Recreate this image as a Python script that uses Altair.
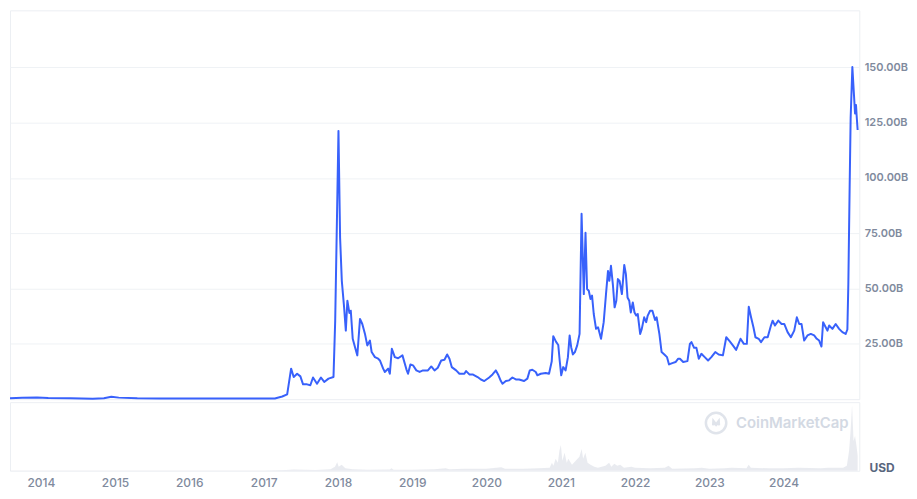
import altair as alt
import pandas as pd
import numpy as np

# ---- data (decimal years, market cap in billions USD) ----
LINE_T = [2013.585, 2013.75, 2013.95, 2014.10, 2014.40, 2014.70, 2014.85, 2014.95, 2015.05, 2015.30,
          2015.60, 2016.00, 2016.50, 2016.80, 2017.00, 2017.15, 2017.25, 2017.316,
          2017.369, 2017.404, 2017.450, 2017.494, 2017.530, 2017.584, 2017.628, 2017.664, 2017.718,
          2017.771, 2017.815, 2017.873, 2017.940, 2017.963, 2018.007, 2018.029, 2018.052, 2018.083,
          2018.106, 2018.127, 2018.154, 2018.173, 2018.199, 2018.230, 2018.261, 2018.297, 2018.328,
          2018.364, 2018.395, 2018.431, 2018.454, 2018.498, 2018.542, 2018.565, 2018.609, 2018.632,
          2018.676, 2018.699, 2018.726, 2018.766, 2018.810, 2018.869, 2018.922, 2018.944, 2018.976,
          2019.011, 2019.056, 2019.100, 2019.145, 2019.212, 2019.257, 2019.301, 2019.345, 2019.391,
          2019.435, 2019.471, 2019.502, 2019.533, 2019.592, 2019.636, 2019.703, 2019.726, 2019.770,
          2019.814, 2019.881, 2019.926, 2019.971, 2020.037, 2020.082, 2020.127, 2020.162, 2020.194,
          2020.216, 2020.261, 2020.305, 2020.349, 2020.395, 2020.439, 2020.506, 2020.550, 2020.582,
          2020.617, 2020.663, 2020.684, 2020.730, 2020.797, 2020.841, 2020.877, 2020.898, 2020.934,
          2020.965, 2020.984, 2021.005, 2021.032, 2021.064, 2021.095, 2021.118, 2021.139, 2021.162,
          2021.189, 2021.220, 2021.252, 2021.279, 2021.309, 2021.332, 2021.353, 2021.376, 2021.399,
          2021.420, 2021.443, 2021.474, 2021.501, 2021.541, 2021.577, 2021.608, 2021.635, 2021.653,
          2021.675, 2021.702, 2021.724, 2021.747, 2021.768, 2021.791, 2021.822, 2021.854, 2021.876,
          2021.898, 2021.921, 2021.942, 2021.969, 2021.992, 2022.015, 2022.036, 2022.068, 2022.090,
          2022.122, 2022.149, 2022.170, 2022.202, 2022.233, 2022.269, 2022.290, 2022.327, 2022.357,
          2022.394, 2022.430, 2022.457, 2022.501, 2022.545, 2022.581, 2022.604, 2022.648, 2022.705,
          2022.738, 2022.759, 2022.795, 2022.826, 2022.858, 2022.893, 2022.938, 2022.983, 2023.027,
          2023.080, 2023.126, 2023.183, 2023.228, 2023.273, 2023.317, 2023.361, 2023.420, 2023.465,
          2023.505, 2023.531, 2023.562, 2023.594, 2023.621, 2023.665, 2023.696, 2023.742, 2023.786,
          2023.830, 2023.853, 2023.884, 2023.929, 2023.973, 2024.009, 2024.054, 2024.098, 2024.143,
          2024.178, 2024.210, 2024.241, 2024.277, 2024.321, 2024.366, 2024.411, 2024.446, 2024.478,
          2024.509, 2024.531, 2024.566, 2024.589, 2024.612, 2024.656, 2024.700, 2024.746, 2024.790,
          2024.834, 2024.857, 2024.870, 2024.888, 2024.901, 2024.924, 2024.946, 2024.960, 2024.973,
          2024.981, 2024.995]
LINE_V = [0.4, 0.6, 0.8, 0.5, 0.4, 0.2, 0.4, 1.1, 0.7, 0.4,
          0.3, 0.25, 0.25, 0.25, 0.25, 0.3, 1.2, 2.2,
          13.8, 10.0, 11.5, 10.3, 6.7, 6.7, 6.3, 9.8, 7.0,
          9.8, 7.8, 9.3, 10.0, 35.5, 121.3, 73.0, 53.5, 41.5,
          31.0, 44.5, 39.0, 40.0, 27.3, 23.5, 19.8, 36.3, 34.0,
          29.5, 24.3, 26.5, 21.3, 19.0, 18.3, 17.5, 13.8, 12.3,
          13.8, 11.5, 22.8, 19.0, 18.5, 19.8, 13.5, 11.5, 15.7,
          15.3, 13.0, 12.3, 13.0, 13.0, 14.8, 13.0, 14.2, 17.5,
          17.8, 20.2, 18.3, 14.5, 13.0, 11.5, 11.5, 12.7, 11.2,
          11.2, 10.0, 8.9, 8.2, 9.8, 11.2, 13.0, 10.8, 8.2,
          7.0, 8.2, 8.5, 9.8, 8.9, 8.9, 8.2, 9.3, 13.0,
          13.3, 12.3, 10.8, 11.5, 11.8, 11.5, 17.0, 28.5, 26.0,
          24.5, 17.5, 10.8, 14.5, 13.0, 19.0, 28.8, 23.5, 20.2,
          21.3, 24.3, 29.5, 83.8, 47.5, 75.2, 49.8, 49.0, 45.3,
          46.8, 38.5, 31.8, 32.5, 27.3, 34.8, 47.5, 58.0, 53.5,
          60.3, 51.3, 41.5, 44.5, 54.3, 53.5, 47.5, 60.7, 56.5,
          46.0, 44.5, 39.2, 43.7, 39.2, 37.8, 38.5, 29.5, 31.8,
          37.0, 34.8, 37.8, 40.0, 40.0, 35.8, 37.0, 29.5, 21.3,
          20.2, 19.0, 15.7, 16.3, 16.8, 18.3, 18.3, 16.8, 17.2,
          25.0, 25.8, 23.2, 23.2, 18.3, 20.5, 19.0, 17.5, 19.0,
          21.3, 20.2, 19.8, 28.0, 26.2, 24.3, 22.3, 27.3, 25.0,
          25.0, 41.8, 37.0, 32.5, 28.0, 27.3, 25.8, 28.0, 28.0,
          33.3, 35.5, 33.3, 35.5, 34.0, 34.0, 30.3, 28.0, 31.0,
          37.0, 34.0, 34.0, 26.5, 28.8, 29.5, 28.8, 27.3, 26.5,
          23.8, 34.8, 32.5, 31.0, 33.3, 31.8, 34.0, 31.8, 30.3,
          29.5, 31.5, 52.0, 97.0, 127.0, 150.2, 137.4, 129.2, 133.0,
          128.5, 121.7]

# 24h volume (billions USD), rough reading of the faint bottom panel
VOL_T = [2013.585, 2015.0, 2017.0, 2017.3, 2017.4, 2017.7, 2017.9, 2017.96, 2017.99, 2018.01,
         2018.05, 2018.10, 2018.20, 2018.40, 2018.70, 2018.72, 2018.75, 2019.0, 2019.3, 2019.45,
         2019.5, 2019.7, 2020.0, 2020.2, 2020.25, 2020.5, 2020.7, 2020.85, 2020.88, 2020.9,
         2020.93, 2020.96, 2020.98, 2021.0, 2021.02, 2021.05, 2021.08, 2021.10, 2021.15, 2021.20,
         2021.25, 2021.28, 2021.30, 2021.33, 2021.36, 2021.40, 2021.45, 2021.50, 2021.60, 2021.65,
         2021.68, 2021.72, 2021.76, 2021.80, 2021.85, 2021.95, 2022.0, 2022.2, 2022.4, 2022.45,
         2022.5, 2022.8, 2022.9, 2023.0, 2023.2, 2023.3, 2023.5, 2023.53, 2023.56, 2023.8,
         2024.0, 2024.2, 2024.5, 2024.6, 2024.8, 2024.85, 2024.88, 2024.90, 2024.92, 2024.94,
         2024.96, 2024.98, 2024.995]
VOL_V = [0.2, 0.2, 0.2, 0.8, 1.2, 0.8, 1.5, 4.0, 8.5, 4.0,
         6.0, 2.5, 1.5, 1.0, 1.2, 2.5, 1.0, 1.0, 1.5, 2.5,
         1.5, 2.0, 2.0, 3.5, 2.0, 2.0, 2.5, 3.0, 8.0, 5.0,
         12.0, 8.0, 20.0, 26.0, 10.0, 18.0, 8.0, 12.0, 6.0, 10.0,
         14.0, 22.0, 12.0, 18.0, 8.0, 6.0, 4.0, 3.0, 5.0, 8.0,
         4.0, 7.0, 5.0, 6.0, 3.0, 4.0, 3.0, 2.5, 3.0, 5.0,
         2.0, 2.5, 3.0, 2.0, 2.5, 3.0, 2.5, 6.0, 3.0, 2.5,
         2.5, 3.0, 2.5, 3.0, 3.0, 5.0, 20.0, 40.0, 66.0, 30.0,
         35.0, 25.0, 15.0]

YEAR_TICKS = list(range(2014, 2025))
Y_TICKS = [25, 50, 75, 100, 125, 150]
X_START, X_END = 2013.585, 2025.017
Y_MAX = 175.8
VOL_MAX = 69


def to_date(t):
    y = int(np.floor(t))
    start = pd.Timestamp(year=y, month=1, day=1)
    end = pd.Timestamp(year=y + 1, month=1, day=1)
    return start + (end - start) * (t - y)


line_df = pd.DataFrame({"date": [to_date(t) for t in LINE_T], "cap": LINE_V})
vol_df = pd.DataFrame({"date": [to_date(t) for t in VOL_T], "vol": VOL_V})

x_domain = [to_date(X_START).isoformat(), to_date(X_END).isoformat()]
x_scale = alt.Scale(domain=x_domain)
tick_vals = [alt.DateTime(year=y, month=1, date=1) for y in YEAR_TICKS]

FONT = "Inter"
LABEL_COLOR = "#808a9d"
W = 854
WM_COLOR = "#d3d9e3"

main = alt.Chart(line_df).mark_line(
    color="#3861fb", strokeWidth=2, strokeJoin="round"
).encode(
    x=alt.X("date:T", scale=x_scale, axis=None),
    y=alt.Y("cap:Q", scale=alt.Scale(domain=[0, Y_MAX], nice=False, zero=True),
            axis=alt.Axis(orient="right", values=Y_TICKS, title=None,
                          labelExpr="format(datum.value, '.2f') + 'B'",
                          domain=False, ticks=False, labelPadding=5,
                          labelFont=FONT, labelFontSize=11, labelFontWeight=600,
                          labelColor=LABEL_COLOR, gridColor="#eff2f5", gridWidth=1)),
).properties(width=W, height=391)

vol_area = alt.Chart(vol_df).mark_area(
    color="#e3e6ec", opacity=0.8, interpolate="linear"
).encode(
    x=alt.X("date:T", scale=x_scale,
            axis=alt.Axis(values=tick_vals, format="%Y", title=None, grid=False,
                          domain=False, ticks=False, labelPadding=7,
                          labelFont=FONT, labelFontSize=12, labelFontWeight=500,
                          labelColor=LABEL_COLOR)),
    y=alt.Y("vol:Q", scale=alt.Scale(domain=[0, VOL_MAX], nice=False), axis=None),
)

logo_circle = alt.Chart(pd.DataFrame({"k": [0]})).mark_point(
    shape="circle", size=420, filled=False, color=WM_COLOR, strokeWidth=2.5
).encode(x=alt.value(710), y=alt.value(21))

logo_m = alt.Chart(pd.DataFrame({"k": [0]})).mark_point(
    shape="M-0.55,0.45 L-0.5,-0.35 L0,0.3 L0.5,-0.35 L0.55,0.45",
    size=110, filled=False, color=WM_COLOR, strokeWidth=2.5
).encode(x=alt.value(710), y=alt.value(21))

watermark = alt.Chart(pd.DataFrame({"t": ["CoinMarketCap"]})).mark_text(
    align="left", baseline="middle", font=FONT, fontSize=15, fontWeight=600, color=WM_COLOR
).encode(x=alt.value(730), y=alt.value(21), text="t:N")

usd = alt.Chart(pd.DataFrame({"t": ["USD"]})).mark_text(
    align="center", baseline="middle", font=FONT, fontSize=12, fontWeight=700, color="#58667e"
).encode(x=alt.value(877), y=alt.value(66), text="t:N")

bottom = alt.layer(vol_area, logo_circle, logo_m, watermark, usd).properties(width=W, height=69)

chart = alt.vconcat(main, bottom, spacing=0).properties(
    padding=0, background="white"
).configure_view(
    stroke="#eceff3", strokeWidth=1
).configure_concat(spacing=0)

chart.save("out.html", embed_options={"renderer": "svg", "actions": False})
